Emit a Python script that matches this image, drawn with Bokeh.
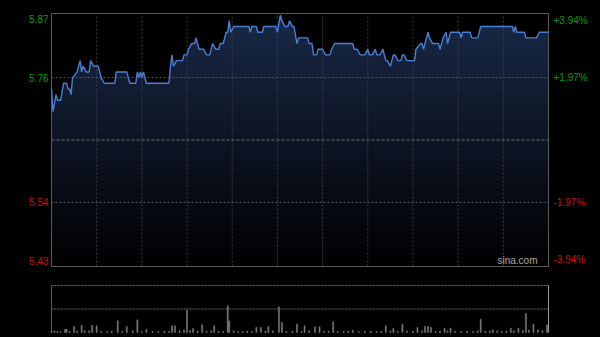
import numpy as np
from bokeh.plotting import figure
from bokeh.models import Range1d
from bokeh.core.properties import value
from bokeh.layouts import column
from bokeh.embed import file_html
from bokeh.resources import INLINE

# ---------------- data ----------------
prev_close = 5.65
y_lo, y_hi = 5.427, 5.873
session_minutes = 330

price_ticks = [5.43, 5.54, 5.76, 5.87]
price_tick_labels = ["5.43", "5.54", "5.76", "5.87"]
pct_tick_labels = ["-3.94%", "-1.97%", "+1.97%", "+3.94%"]
tick_colors = ["#c81010", "#c81010", "#0a9a0a", "#0a9a0a"]
time_grid_minutes = [30, 60, 90, 120, 150, 180, 210, 240, 270, 300]

price_t = [0, 1, 3, 4, 6, 8, 10, 11, 12, 13, 14, 17, 19, 20, 21, 23, 25, 26, 28, 31,
           32, 33, 35, 42, 43, 50, 51, 52, 56, 57, 58, 59, 60, 61, 63, 78, 79, 80, 81, 83,
           87, 88, 90, 91, 93, 95, 96, 98, 101, 103, 105, 107, 109, 111, 112, 114, 116, 117, 118, 119,
           121, 131, 132, 133, 136, 137, 140, 141, 149, 150, 152, 153, 155, 157, 158, 160, 161, 163, 164, 170,
           171, 173, 174, 176, 177, 180, 182, 185, 186, 188, 200, 201, 203, 205, 208, 210, 211, 213, 215, 216,
           218, 220, 222, 223, 225, 227, 228, 230, 232, 233, 234, 236, 241, 242, 245, 246, 247, 250, 251, 253,
           257, 258, 260, 262, 263, 265, 271, 272, 273, 278, 279, 283, 285, 306, 307, 308, 309, 314, 315, 322,
           324, 330]
price_v = [5.74, 5.70, 5.73, 5.72, 5.72, 5.75, 5.75, 5.74, 5.74, 5.73, 5.76, 5.77, 5.79, 5.77, 5.78, 5.77, 5.77, 5.79, 5.78, 5.78,
           5.77, 5.76, 5.75, 5.75, 5.77, 5.77, 5.76, 5.75, 5.75, 5.77, 5.76, 5.77, 5.76, 5.77, 5.75, 5.75, 5.78, 5.80, 5.78, 5.79,
           5.79, 5.80, 5.80, 5.81, 5.82, 5.82, 5.83, 5.81, 5.81, 5.80, 5.80, 5.82, 5.81, 5.81, 5.82, 5.82, 5.84, 5.84, 5.86, 5.84,
           5.85, 5.85, 5.84, 5.85, 5.85, 5.84, 5.84, 5.85, 5.85, 5.84, 5.87, 5.86, 5.85, 5.85, 5.86, 5.85, 5.85, 5.82, 5.83, 5.83,
           5.82, 5.82, 5.80, 5.80, 5.81, 5.81, 5.80, 5.80, 5.81, 5.82, 5.82, 5.81, 5.81, 5.80, 5.80, 5.81, 5.80, 5.80, 5.81, 5.80,
           5.80, 5.81, 5.79, 5.79, 5.78, 5.80, 5.80, 5.79, 5.79, 5.80, 5.80, 5.79, 5.79, 5.81, 5.82, 5.82, 5.81, 5.84, 5.83, 5.82,
           5.82, 5.81, 5.83, 5.84, 5.82, 5.84, 5.84, 5.83, 5.84, 5.84, 5.83, 5.83, 5.85, 5.85, 5.84, 5.85, 5.84, 5.84, 5.83, 5.83,
           5.84, 5.84]

vol_t = [0, 2, 4, 6, 9, 10, 12, 15, 17, 20, 22, 25, 27, 30, 33, 37, 40, 44, 47, 50,
         54, 57, 60, 63, 67, 71, 75, 78, 80, 82, 85, 88, 90, 92, 94, 97, 100, 103, 106, 108,
         111, 114, 117, 118, 121, 124, 127, 130, 133, 136, 139, 142, 144, 147, 151, 153, 156, 160, 163, 166,
         168, 171, 175, 178, 181, 184, 187, 190, 194, 197, 200, 204, 208, 212, 216, 219, 222, 225, 227, 230,
         233, 236, 240, 243, 246, 248, 250, 252, 255, 258, 261, 263, 265, 268, 272, 276, 280, 283, 285, 288,
         291, 293, 296, 299, 302, 305, 307, 310, 313, 315, 317, 320, 323, 326, 329]
vol_v = [12, 14, 10, 8, 28, 28, 10, 51, 12, 62, 16, 14, 62, 57, 10, 8, 12, 99, 10, 51,
         14, 108, 8, 28, 10, 8, 12, 10, 57, 57, 14, 22, 190, 16, 34, 12, 65, 10, 14, 57,
         10, 8, 227, 99, 14, 10, 8, 12, 10, 43, 43, 12, 51, 14, 218, 85, 10, 12, 71, 10,
         57, 14, 48, 48, 10, 12, 91, 8, 10, 12, 20, 8, 10, 12, 8, 10, 57, 14, 34, 10,
         71, 12, 10, 43, 14, 51, 51, 43, 10, 12, 37, 14, 37, 10, 8, 12, 10, 14, 113, 10,
         12, 23, 14, 10, 12, 37, 14, 37, 16, 161, 20, 71, 22, 14, 65]
vol_lo, vol_hi = 0, 400
vol_grid = [200, 400]

FONT = value("Liberation Sans")

# ---------------- layout constants (pixels) ----------------
W = 600
BOX_L, BOX_R = 51, 548          # chart box edges in canvas px
PAD = 2                          # frame padding around the box
ppm = (BOX_R - BOX_L) / session_minutes
x_start = -BOX_L / ppm
x_end = session_minutes + (W - BOX_R) / ppm

main_box_h = 253
ypp = (y_hi - y_lo) / main_box_h
vol_box_h = 47
vpp = (vol_hi - vol_lo) / vol_box_h

# ---------------- price panel ----------------
p = figure(width=W, height=275, x_range=Range1d(x_start, x_end),
           y_range=Range1d(y_lo - PAD * ypp, y_hi + PAD * ypp),
           output_backend="svg", toolbar_location=None, x_axis_location=None, y_axis_location=None,
           min_border_left=0, min_border_right=0, min_border_top=13 - PAD, min_border_bottom=9 - PAD)
p.background_fill_color = "black"
p.border_fill_color = "black"
p.outline_line_color = None
p.grid.visible = False

# area fill under the price line
p.varea(x=price_t, y1=y_lo, y2=price_v, fill_color="#1a2948", fill_alpha=1.0)
# vertical darkening (gradient) overlay
n_rows = 256
alpha = (255 * (1.0 - (np.arange(n_rows) + 0.5) / n_rows)).astype(np.uint32)
grad = (alpha << 24).reshape(n_rows, 1).astype(np.uint32)
p.image_rgba(image=[grad], x=0, y=y_lo, dw=session_minutes, dh=y_hi - y_lo)

# grid lines
p.segment(x0=time_grid_minutes, x1=time_grid_minutes, y0=y_lo, y1=y_hi,
          line_color="#3e3e3e", line_dash="2 2", line_width=1)
p.segment(x0=0, x1=session_minutes, y0=[price_ticks[1], price_ticks[2]], y1=[price_ticks[1], price_ticks[2]],
          line_color="#5c5c5c", line_dash="2 2", line_width=1)
p.segment(x0=0, x1=session_minutes, y0=prev_close, y1=prev_close,
          line_color="#6e6e6e", line_dash="3 2", line_width=1)
# chart box
p.quad(left=0, right=session_minutes, bottom=y_lo, top=y_hi, fill_color=None,
       line_color="#5a5a5a", line_width=1)

p.line(x=price_t, y=price_v, line_color="#4a7fd6", line_width=1.4)

baselines = ["bottom", "middle", "middle", "top"]
for yv, lab, pct, col, bl in zip(price_ticks, price_tick_labels, pct_tick_labels, tick_colors, baselines):
    p.text(x=[0], y=[yv], text=[lab], x_offset=-3, text_align="right", text_baseline=bl,
           text_color=col, text_font=FONT, text_font_size="10px")
    p.text(x=[session_minutes], y=[yv], text=[pct], x_offset=5, text_align="left", text_baseline=bl,
           text_color=col, text_font=FONT, text_font_size="10px")

p.text(x=[session_minutes], y=[y_lo], text=["sina.com"], x_offset=-11, y_offset=-1, text_align="right",
       text_baseline="bottom", text_color="#a8a8a8", text_font=FONT, text_font_size="10px")

# ---------------- volume panel ----------------
v = figure(width=W, height=62, x_range=Range1d(x_start, x_end),
           y_range=Range1d(vol_lo - PAD * vpp, vol_hi + PAD * vpp),
           output_backend="svg", toolbar_location=None, x_axis_location=None, y_axis_location=None,
           min_border_left=0, min_border_right=0, min_border_top=10 - PAD, min_border_bottom=5 - PAD)
v.background_fill_color = "black"
v.border_fill_color = "black"
v.outline_line_color = None
v.grid.visible = False
v.segment(x0=0, x1=session_minutes, y0=vol_grid, y1=vol_grid,
          line_color="#6a6a6a", line_dash="2 1", line_width=1)
v.segment(x0=0, x1=0, y0=vol_lo, y1=vol_hi, line_color="#5a5a5a", line_width=1)
v.segment(x0=session_minutes, x1=session_minutes, y0=vol_lo, y1=vol_hi, line_color="#9a9a9a", line_width=1)
v.vbar(x=vol_t, top=vol_v, bottom=vol_lo, width=0.7, fill_color="#7e7e7e", line_color="#7e7e7e", line_width=0.5)

layout = column(p, v, spacing=0)
layout.styles = {"background-color": "black"}
open("out.html", "w").write(file_html(layout, INLINE))
